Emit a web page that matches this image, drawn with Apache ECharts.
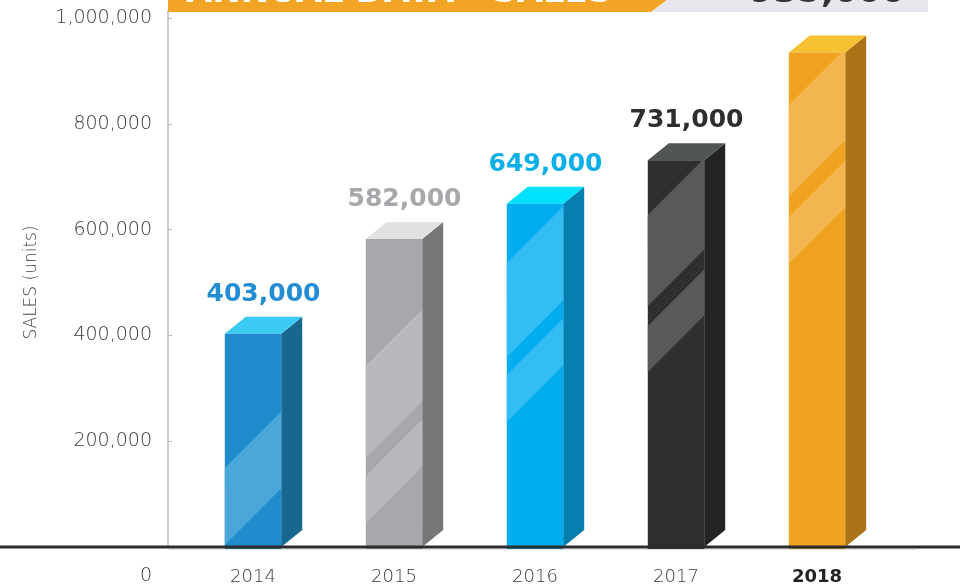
<!DOCTYPE html>
<html><head><meta charset="utf-8">
<script src="https://cdn.jsdelivr.net/npm/echarts@6/dist/echarts.min.js"></script>
<style>html,body{margin:0;padding:0;background:#fff}#c{width:960px;height:584px}</style>
</head><body><div id="c"></div>
<script>
// ---- data ----
const categories = ['2014', '2015', '2016', '2017', '2018'];
const sales = [403000, 582000, 649000, 731000, 935000];
const valueLabels = ['403,000', '582,000', '649,000', '731,000', '935,000'];
const yTickValues = [0, 200000, 400000, 600000, 800000, 1000000];
const yTickLabels = ['0', '200,000', '400,000', '600,000', '800,000', '1,000,000'];
const bannerTitle = 'ANNUAL DATA - SALES';
const yAxisTitle = 'SALES (units)';

// ---- styles ----
const palette = [
  {front: '#208bcd', side: '#176790', top: '#3dcaf5', stripe: '#4ba6d9', label: '#228dd2'},
  {front: '#a7a8ab', side: '#767779', top: '#e1e1e3', stripe: '#b9b9bd', label: '#a7a8ab'},
  {front: '#00adee', side: '#047fae', top: '#00e1fd', stripe: '#33bdf2', label: '#0aaee9'},
  {front: '#2e2f2f', side: '#222323', top: '#525556', stripe: '#585a59', label: '#2d2f2e'},
  {front: '#f0a221', side: '#ab7418', top: '#f6c231', stripe: '#f3b54f', label: '#333333'}
];
// stripe bands: [top, bottom] heights (px above base, measured at the bar's left edge)
const stripeSpecs = [
  [[79, 2]],
  [[181, 89], [71, 24]],
  [[284, 190], [172, 125]],
  [[332, 241], [221, 175]],
  [[442, 350], [330, 283]]
];
const DX = 21, DY = 17;

function clipPoly(poly, ymin, ymax) {
  function clipEdge(pts, inside, inter) {
    const out = [];
    for (let k = 0; k < pts.length; k++) {
      const a = pts[k], b = pts[(k + 1) % pts.length];
      const ia = inside(a), ib = inside(b);
      if (ia) out.push(a);
      if (ia !== ib) out.push(inter(a, b));
    }
    return out;
  }
  const atY = (y) => (a, b) => [a[0] + (b[0] - a[0]) * (y - a[1]) / (b[1] - a[1]), y];
  let p = clipEdge(poly, q => q[1] >= ymin, atY(ymin));
  if (p.length) p = clipEdge(p, q => q[1] <= ymax, atY(ymax));
  return p;
}

function renderItem(params, api) {
  const i = params.dataIndex;
  const idx = api.value(0), v = api.value(1);
  const topPt = api.coord([idx, v]);
  const basePt = api.coord([idx, 0]);
  const bw = api.size([1, 0])[0] * 0.4;
  const xL = topPt[0] - bw / 2, xR = topPt[0] + bw / 2, yT = topPt[1], yB = basePt[1];
  const p = palette[i];
  const children = [
    {type: 'polygon', shape: {points: [[xR, yT], [xR + DX, yT - DY], [xR + DX, yB - DY], [xR, yB]]}, style: {fill: p.side}},
    {type: 'polygon', shape: {points: [[xL, yT], [xL + DX, yT - DY], [xR + DX, yT - DY], [xR, yT]]}, style: {fill: p.top}},
    {type: 'rect', shape: {x: xL, y: yT, width: bw, height: yB - yT + 2}, style: {fill: p.front}}
  ];
  const w = xR - xL;
  stripeSpecs[i].forEach(b => {
    const h2 = b[0], h1 = b[1];
    let poly = [[xL, yB - h2], [xR, yB - h2 - w], [xR, yB - h1 - w], [xL, yB - h1]];
    poly = clipPoly(poly, yT, yB + 2);
    if (poly.length >= 3) children.push({type: 'polygon', shape: {points: poly}, style: {fill: p.stripe}});
  });
  if (i < 4) {
    children.push({type: 'text', style: {
      text: valueLabels[i], x: (xL + xR + DX) / 2, y: yT - DY - 10,
      align: 'center', verticalAlign: 'bottom', fill: p.label,
      fontSize: 25, fontWeight: 'bold', fontFamily: 'DejaVu Sans'
    }});
  }
  return {type: 'group', children};
}

const chart = echarts.init(document.getElementById('c'), null, {renderer: 'canvas'});
const option = {
  animation: false,
  backgroundColor: '#ffffff',
  grid: {left: 182.5, width: 705, top: 18, bottom: 37, containLabel: false, outerBoundsMode: 'none'},
  xAxis: {
    type: 'category',
    data: categories.map((c, i) => i === categories.length - 1
      ? {value: c, textStyle: {fontWeight: 'bold', color: '#222'}} : c),
    axisLine: {show: false}, axisTick: {show: false},
    axisLabel: {margin: 21, fontSize: 18, fontFamily: 'DejaVu Sans', fontWeight: 200, color: '#3a3a3a'}
  },
  yAxis: {
    type: 'value', min: 0, max: 1000000, interval: 200000, offset: 14.5,
    name: yAxisTitle, nameLocation: 'middle', nameGap: 128, nameRotate: 90,
    nameTextStyle: {fontSize: 17, fontFamily: 'DejaVu Sans', fontWeight: 200, color: '#444'},
    splitLine: {show: false},
    axisLine: {show: true, lineStyle: {color: '#bdbdbd', width: 1.5}},
    axisTick: {show: true, inside: true, length: 4, lineStyle: {color: '#bdbdbd'}},
    axisLabel: {
      margin: 16, fontSize: 19, fontFamily: 'DejaVu Sans', fontWeight: 200, color: '#3a3a3a',
      showMinLabel: false,
      formatter: v => {
        const k = yTickValues.indexOf(v);
        return (k > 0) ? yTickLabels[k] : '';
      }
    }
  },
  series: [{
    type: 'custom',
    renderItem: renderItem,
    encode: {x: 0, y: 1},
    data: sales.map((v, i) => [i, v]),
    clip: false
  }]
};
chart.setOption(option);

const baseY = chart.convertToPixel({yAxisIndex: 0}, 0);
const topY = chart.convertToPixel({yAxisIndex: 0}, 1000000);
const axisX = 168;
chart.setOption({
  graphic: [
    {type: 'rect', z: 100, shape: {x: axisX - 0.75, y: 10, width: 1.5, height: topY - 10}, style: {fill: '#bdbdbd'}},
    {type: 'rect', z: 100, shape: {x: axisX, y: baseY + 2, width: 748, height: 1}, style: {fill: '#e2e2e2'}},
    {type: 'rect', z: 101, shape: {x: 0, y: baseY - 1.5, width: 960, height: 3}, style: {fill: '#2c2c2c'}},
    {type: 'text', z: 101, style: {text: yTickLabels[0], x: axisX - 16, y: baseY + 29, align: 'right', verticalAlign: 'middle',
      fill: '#3a3a3a', fontSize: 19, fontWeight: 200, fontFamily: 'DejaVu Sans'}},
    {type: 'polygon', z: 100, shape: {points: [[168, 0], [667, 0], [651, 12], [168, 12]]}, style: {fill: '#f2a524'}},
    {type: 'polygon', z: 100, shape: {points: [[667, 0], [928, 0], [928, 12], [651, 12]]}, style: {fill: '#e7e7ed'}},
    {type: 'text', z: 102, style: {text: bannerTitle, x: 186, y: 10, align: 'left', verticalAlign: 'bottom',
      fill: '#ffffff', fontSize: 34, fontWeight: 'bold', fontFamily: 'DejaVu Sans'}},
    {type: 'text', z: 102, style: {text: valueLabels[4], x: 750, y: 10, align: 'left', verticalAlign: 'bottom',
      fill: '#333333', fontSize: 34, fontWeight: 'bold', fontFamily: 'DejaVu Sans'}}
  ]
});
</script>
</body></html>
